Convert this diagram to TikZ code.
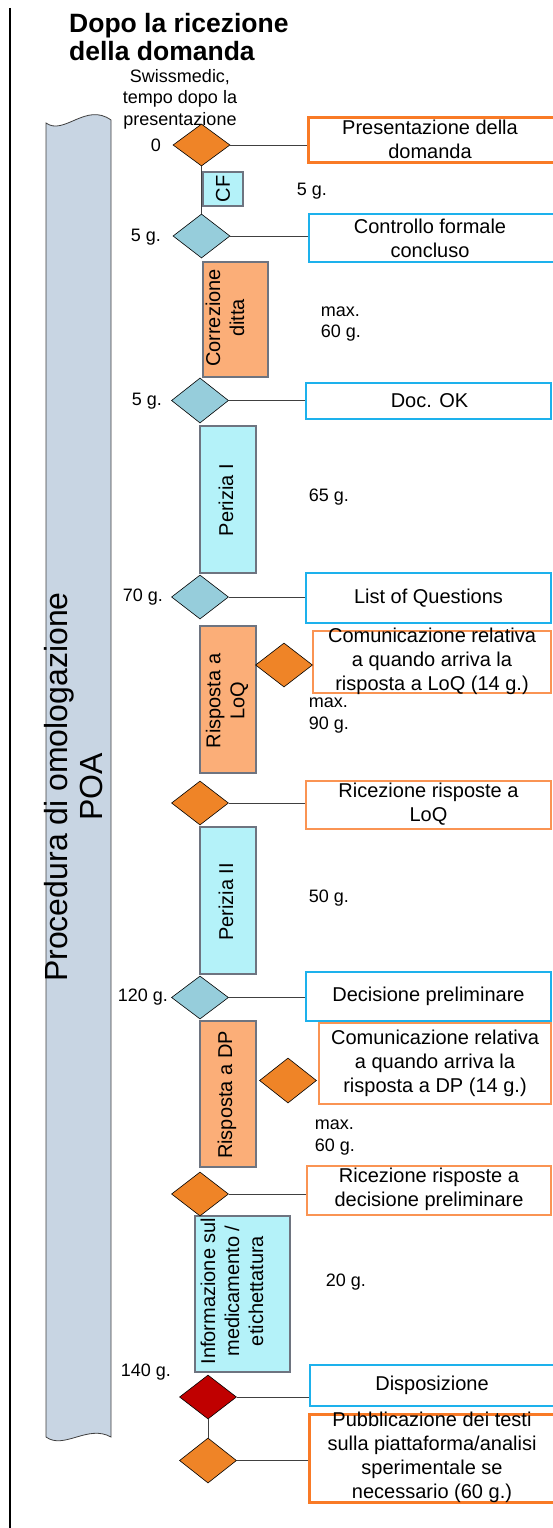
\documentclass[tikz,border=0pt]{standalone}
\usepackage{fontspec}
\setmainfont{Liberation Sans}
\usetikzlibrary{shapes.geometric}
\definecolor{dorng}{HTML}{EF8427}
\definecolor{dblu}{HTML}{96CDDB}
\definecolor{dredc}{HTML}{C00000}
\definecolor{actcyan}{HTML}{B4F2F9}
\definecolor{actorng}{HTML}{FBAE78}
\definecolor{actline}{HTML}{6E7480}
\definecolor{lanefill}{HTML}{C8D5E3}
\definecolor{boxblue}{HTML}{1DB1EC}
\definecolor{boxorng}{HTML}{F97A26}
\definecolor{boxorngb}{HTML}{FA9453}
\definecolor{connc}{HTML}{404040}
\tikzset{
  dia/.style={shape=diamond, draw=black, line width=0.6pt, inner sep=0pt, minimum width=57pt, minimum height=44pt},
  dorange/.style={dia, fill=dorng},
  dblue/.style={dia, fill=dblu},
  dred/.style={dia, fill=dredc},
  act/.style={draw=actline, line width=1.2pt, inner sep=0pt, rectangle},
  actcy/.style={act, fill=actcyan},
  actor/.style={act, fill=actorng},
  rbox/.style={rectangle, inner sep=0pt, fill=white},
  bluebox/.style={rbox, draw=boxblue, line width=1.8pt},
  orthick/.style={rbox, draw=boxorng, line width=3pt},
  orcomm/.style={rbox, draw=boxorngb, line width=2.6pt},
  orthin/.style={rbox, draw=boxorngb, line width=1.7pt},
  conn/.style={draw=connc, line width=1pt},
  txt/.style={font=\fontsize{20}{24}\selectfont, align=center, inner sep=0pt},
  lbl/.style={font=\fontsize{18}{21.5}\selectfont, align=center, inner sep=0pt},
  lbll/.style={font=\fontsize{18}{21.5}\selectfont, align=left, inner sep=0pt},
  titl/.style={font=\fontsize{26.5}{28}\selectfont\bfseries, inner sep=0pt, anchor=base west},
  lanetxt/.style={font=\fontsize{32}{35}\selectfont, align=center, inner sep=0pt, rotate=90},
}
\begin{document}
\begin{tikzpicture}[x=1pt,y=-1pt]
\useasboundingbox (0,0) rectangle (552,1528);
\fill[white] (0,0) rectangle (552,1528);
% left rule
\draw[line width=2pt] (9.5,8) -- (9.5,1530);
% title
\node[titl] (title1) at (69,33) {Dopo la ricezione};
\node[titl] (title2) at (69,61) {della domanda};
\node[lbl] (swiss) at (180,99) {Swissmedic,\\tempo dopo la\\presentazione};
% lane
\path[fill=lanefill, draw=black!75, line width=0.8pt] (46,123) .. controls (64,136) and (86,102) .. (111,120) -- (111,1437) .. controls (88,1424) and (64,1450) .. (46,1437) -- cycle;
\node[lanetxt] (lanelbl) at (74,787) {Procedura di omologazione\\POA};
% activity boxes
\node[actcy, minimum width=40pt, minimum height=34pt] (a1) at (223,189) {};
\node[txt, rotate=90] (a1t) at (223,189) {CF};
\node[actor, minimum width=65pt, minimum height=115pt] (a2) at (235.5,319.5) {};
\node[txt, rotate=90] (a2t) at (225,318) {Correzione\\ditta};
\node[actcy, minimum width=56pt, minimum height=147pt] (a3) at (228,499.5) {};
\node[txt, rotate=90] (a3t) at (226,500) {Perizia I};
\node[actor, minimum width=56pt, minimum height=147pt] (a4) at (228,699.5) {};
\node[txt, rotate=90] (a4t) at (227,701) {Risposta a\\LoQ};
\node[actcy, minimum width=56pt, minimum height=147pt] (a5) at (228,900.5) {};
\node[txt, rotate=90] (a5t) at (226,902) {Perizia II};
\node[actor, minimum width=56pt, minimum height=146pt] (a6) at (228,1094) {};
\node[txt, rotate=90] (a6t) at (227,1095) {Risposta a DP};
\node[actcy, minimum width=95pt, minimum height=156pt] (a7) at (242.5,1294) {};
\node[txt, rotate=90] (a7t) at (232,1291) {Informazione sul\\medicamento /\\etichettatura};
% right boxes
\node[orthick, minimum width=254pt, minimum height=45pt] (b1) at (435,139.5) {};
\node[txt] (t1) at (430,139.5) {Presentazione della\\domanda};
\node[bluebox, minimum width=253pt, minimum height=48pt] (b2) at (435.5,238) {};
\node[txt] (t2) at (430,238) {Controllo formale\\concluso};
\node[bluebox, minimum width=245pt, minimum height=36pt] (b3) at (428.5,401) {};
\node[txt] (t3) at (429.5,401) {Doc. OK};
\node[bluebox, minimum width=245pt, minimum height=50pt] (b4) at (428.5,598) {};
\node[txt] (t4) at (428.5,598) {List of Questions};
\node[orcomm, minimum width=238pt, minimum height=62pt] (b5) at (432,662) {};
\node[txt] (t5) at (432,661) {Comunicazione relativa\\a quando arriva la\\risposta a LoQ (14 g.)};
\node[orthin, minimum width=245pt, minimum height=48pt] (b6) at (428.5,805) {};
\node[txt] (t6) at (428.5,804) {Ricezione risposte a\\LoQ};
\node[bluebox, minimum width=245pt, minimum height=49pt] (b7) at (428.5,996.5) {};
\node[txt] (t7) at (428.5,996.5) {Decisione preliminare};
\node[orcomm, minimum width=232pt, minimum height=81pt] (b8) at (435,1063.5) {};
\node[txt] (t8) at (435,1063) {Comunicazione relativa\\a quando arriva la\\risposta a DP (14 g.)};
\node[orthin, minimum width=244pt, minimum height=49pt] (b9) at (429,1190.5) {};
\node[txt] (t9) at (429,1189.5) {Ricezione risposte a\\decisione preliminare};
\node[bluebox, minimum width=252pt, minimum height=41pt] (b10) at (436,1385.5) {};
\node[txt] (t10) at (432,1385.5) {Disposizione};
\node[orthick, minimum width=253pt, minimum height=88pt] (b11) at (435.5,1458) {};
\node[txt] (t11) at (432,1457.5) {Pubblicazione dei testi\\sulla piattaforma/analisi\\sperimentale se\\necessario (60 g.)};
% diamonds
\node[dorange, minimum height=42pt] (d1) at (201.5,145) {};
\node[dblue] (d2) at (201.5,236) {};
\node[dblue, minimum height=45pt] (d3) at (200,400.5) {};
\node[dblue] (d4) at (200,597) {};
\node[dorange] (s1) at (284,665) {};
\node[dorange] (d5) at (200,803) {};
\node[dblue, minimum height=43pt] (d6) at (200,997.5) {};
\node[dorange, minimum height=45pt] (s2) at (288,1080.5) {};
\node[dorange] (d7) at (200,1194) {};
\node[dred] (d8) at (208,1397) {};
\node[dorange, minimum height=45pt] (d9) at (208,1460.5) {};
% connectors
\draw[conn] (d1.south) -- (d2.north);
\draw[conn] (d8.south) -- (d9.north);
\draw[conn] (d1.east) -- (b1.west |- d1.east);
\draw[conn] (d2.east) -- (b2.west |- d2.east);
\draw[conn] (d3.east) -- (b3.west |- d3.east);
\draw[conn] (d4.east) -- (b4.west |- d4.east);
\draw[conn] (d5.east) -- (b6.west |- d5.east);
\draw[conn] (d6.east) -- (b7.west |- d6.east);
\draw[conn] (d7.east) -- (b9.west |- d7.east);
\draw[conn] (d8.east) -- (b10.west |- d8.east);
\draw[conn] (d9.east) -- (b11.west |- d9.east);
% time labels
\node[lbl] (l0) at (156,145) {0};
\node[lbl] (l1) at (146,237) {5 g.};
\node[lbl] (l2) at (147,401) {5 g.};
\node[lbl] (l3) at (143,597) {70 g.};
\node[lbl] (l4) at (143,997) {120 g.};
\node[lbl] (l5) at (146,1372) {140 g.};
% durations
\node[lbl] (u1) at (312,191) {5 g.};
\node[lbll] (u2) at (341,324) {max.\\60 g.};
\node[lbl] (u3) at (329,497) {65 g.};
\node[lbll] (u4) at (329,715.5) {max.\\90 g.};
\node[lbl] (u5) at (329,898) {50 g.};
\node[lbll] (u6) at (335,1137.5) {max.\\60 g.};
\node[lbl] (u7) at (346,1282) {20 g.};
\end{tikzpicture}
\end{document}
